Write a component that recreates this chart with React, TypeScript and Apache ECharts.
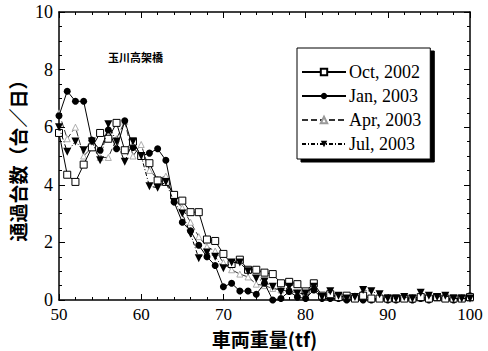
import React, { useEffect, useRef } from "react";
import * as echarts from "echarts";

const weights = [50, 51, 52, 53, 54, 55, 56, 57, 58, 59, 60, 61, 62, 63, 64, 65, 66, 67, 68, 69, 70, 71, 72, 73, 74, 75, 76, 77, 78, 79, 80, 81, 82, 83, 84, 85, 86, 87, 88, 89, 90, 91, 92, 93, 94, 95, 96, 97, 98, 99, 100];

const oct2002 = [5.8, 4.35, 4.1, 4.7, 5.3, 5.8, 5.6, 6.15, 5.2, 5.5, 5.0, 4.75, 4.15, 4.1, 3.65, 3.45, 3.05, 3.05, 2.1, 2.05, 1.6, 1.25, 1.4, 1.05, 1.05, 0.95, 0.9, 0.58, 0.63, 0.55, 0.3, 0.58, 0.15, 0.2, 0.1, 0.15, 0.05, 0.15, 0.05, 0.05, 0.05, 0.05, 0.05, 0.05, 0.1, 0.05, 0.1, 0.05, 0.05, 0.05, 0.1];
const jan2003 = [6.4, 7.25, 6.9, 6.9, 5.55, 5.2, 5.9, 5.25, 6.22, 5.3, 5.0, 5.1, 5.25, 4.85, 3.4, 2.7, 2.4, 1.9, 1.5, 1.2, 0.46, 0.58, 0.31, 0.31, 0.2, 0.58, 0, 0.05, 0.3, 0.1, 0.05, 0.35, 0.05, 0.05, 0.05, 0, 0.05, 0, 0, 0.05, 0, 0, 0.05, 0, 0.05, 0, 0.1, 0.05, 0, 0.05, 0.15];
const apr2003 = [6.5, 5.6, 6.0, 5.0, 5.3, 4.95, 4.95, 5.6, 6.2, 5.0, 5.4, 4.5, 4.2, 4.3, 3.5, 3.2, 2.7, 2.2, 1.85, 1.7, 1.3, 1.05, 0.9, 0.8, 0.55, 0.5, 0.4, 0.35, 0.3, 0.25, 0.2, 0.52, 0.1, 0.15, 0.1, 0.05, 0.15, 0.1, 0.05, 0.05, 0.1, 0.05, 0.05, 0.1, 0.05, 0.1, 0.05, 0.05, 0.05, 0.1, 0.05];
const jul2003 = [6.0, 5.15, 5.5, 5.2, 5.5, 4.85, 6.1, 5.5, 4.8, 5.5, 5.0, 3.95, 3.9, 4.1, 3.4, 3.0, 2.3, 1.45, 1.65, 1.5, 1.1, 1.3, 1.3, 1.0, 0.75, 0.64, 0.46, 0.29, 0.46, 0.23, 0.23, 0.46, 0.1, 0.3, 0.15, 0.05, 0.1, 0.35, 0.3, 0.2, 0.05, 0.05, 0.1, 0.05, 0.25, 0.15, 0.1, 0.15, 0.05, 0.05, 0.05];

const seriesNames = ["Oct, 2002", "Jan, 2003", "Apr, 2003", "Jul, 2003"];
const xTicks = [50, 60, 70, 80, 90, 100];
const yTicks = [0, 2, 4, 6, 8, 10];

const SERIF = "'Liberation Serif', 'DejaVu Serif', serif";
const CJK = "'Noto Sans CJK JP', 'Noto Sans', sans-serif";

function pairs(vals: number[]) {
  return weights.map((w, i) => [w, vals[i]]);
}

export default function App() {
  const ref = useRef<HTMLDivElement>(null);
  useEffect(() => {
    document.body.style.margin = "0";
    if (!ref.current) return;
    const chart = echarts.init(ref.current, undefined, { renderer: "svg" });
    const axisCommon = {
      axisLine: { show: true, onZero: false, lineStyle: { color: "#000", width: 1.5 } },
      splitLine: { show: false },
    };
    const xBase = {
      type: "value" as const,
      min: 50,
      max: 100,
      interval: 10,
      ...axisCommon,
      axisTick: { show: true, inside: true, length: 6, lineStyle: { color: "#000", width: 1 } },
      minorTick: { show: true, splitNumber: 5, length: 3, lineStyle: { color: "#000", width: 1 } },
    };
    const yBase = {
      type: "value" as const,
      min: 0,
      max: 10,
      interval: 2,
      ...axisCommon,
      axisTick: { show: true, inside: true, length: 6, lineStyle: { color: "#000", width: 1 } },
      minorTick: { show: true, splitNumber: 4, length: 3, lineStyle: { color: "#000", width: 1 } },
    };
    const option: any = {
      animation: false,
      backgroundColor: "#fff",
      grid: { left: 59, right: 18, top: 12, bottom: 51, outerBoundsMode: "none", containLabel: false },
      legend: {
        orient: "vertical",
        left: 297,
        top: 48,
        data: seriesNames,
        itemWidth: 44,
        itemHeight: 8,
        itemGap: 6,
        padding: [15, 9, 6, 4],
        backgroundColor: "#fff",
        borderColor: "#000",
        borderWidth: 1,
        shadowColor: "#000",
        shadowOffsetX: 4,
        shadowOffsetY: 3,
        shadowBlur: 0,
        textStyle: { fontFamily: SERIF, fontSize: 18, color: "#000", padding: [0, 0, 0, -2] },
      },
      xAxis: [
        {
          ...xBase,
          position: "bottom",
          name: "車両重量(tf)",
          nameLocation: "middle",
          nameGap: 29,
          nameMoveOverlap: false,
          nameTextStyle: { fontFamily: CJK, fontSize: 19, fontWeight: "bold", color: "#000", lineHeight: 19 },
          axisLabel: {
            fontFamily: SERIF,
            fontSize: 17,
            lineHeight: 15,
            color: "#000",
            margin: 7,
            formatter: (v: number) => (xTicks.includes(v) ? String(v) : ""),
          },
        },
        { ...xBase, position: "top", axisLabel: { show: false } },
      ],
      yAxis: [
        {
          ...yBase,
          position: "left",
          name: "通過台数（台／日）",
          nameLocation: "middle",
          nameGap: 32,
          nameRotate: 90,
          nameMoveOverlap: false,
          nameTextStyle: { fontFamily: CJK, fontSize: 19, fontWeight: "bold", color: "#000" },
          axisLabel: {
            fontFamily: SERIF,
            fontSize: 18,
            color: "#000",
            margin: 6,
            formatter: (v: number) => (yTicks.includes(v) ? String(v) : ""),
          },
        },
        { ...yBase, position: "right", axisLabel: { show: false } },
      ],
      graphic: [
        {
          type: "text",
          left: 108,
          top: 51,
          style: { text: "玉川高架橋", fontFamily: CJK, fontSize: 11, fontWeight: "bold", fill: "#000" },
        },
      ],
      series: [
        {
          name: seriesNames[0],
          type: "line",
          data: pairs(oct2002),
          symbol: "rect",
          symbolSize: 7,
          itemStyle: { color: "#fff", borderColor: "#000", borderWidth: 1 },
          lineStyle: { color: "#000", width: 1 },
          z: 4,
        },
        {
          name: seriesNames[1],
          type: "line",
          data: pairs(jan2003),
          symbol: "circle",
          symbolSize: 7,
          itemStyle: { color: "#000", borderColor: "#000", borderWidth: 0 },
          lineStyle: { color: "#000", width: 1 },
          z: 3,
        },
        {
          name: seriesNames[2],
          type: "line",
          data: pairs(apr2003),
          symbol: "triangle",
          symbolSize: 6,
          itemStyle: { color: "#fff", borderColor: "#999", borderWidth: 0.8 },
          lineStyle: { color: "#333", width: 1, type: [6, 3] },
          z: 2,
        },
        {
          name: seriesNames[3],
          type: "line",
          data: pairs(jul2003),
          symbol: "path://M0,0 L10,0 L5,10 Z",
          symbolSize: 8,
          itemStyle: { color: "#000", borderColor: "#000", borderWidth: 0 },
          lineStyle: { color: "#000", width: 1, type: [4, 2, 1, 2] },
          z: 5,
        },
      ],
    };
    chart.setOption(option);
    return () => chart.dispose();
  }, []);
  return <div ref={ref} style={{ width: 488, height: 351 }} />;
}
